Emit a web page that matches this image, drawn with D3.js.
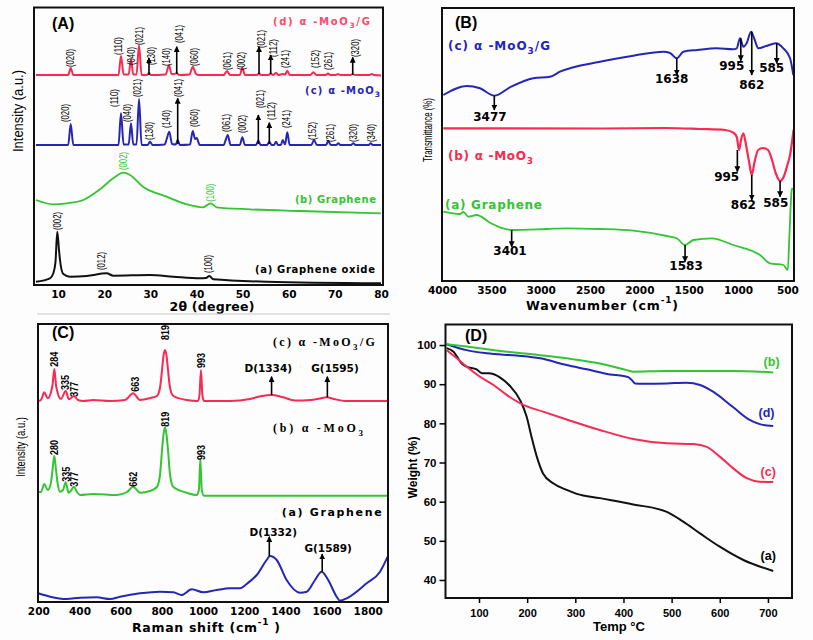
<!DOCTYPE html>
<html><head><meta charset="utf-8">
<script src="https://cdn.jsdelivr.net/npm/d3@7"></script>
<style>body{margin:0;background:#fff}</style>
</head><body><svg id="c" width="813" height="640"></svg>
<script>
// ---------- (A) XRD ----------
const xrdTicks = [10,20,30,40,50,60,70,80];
const xrdMoO3G = [[5.2,210],[12.2,210],[12.74,217],[13.3,210],[23.1,210],[23.64,229],[24.2,210.5],[25.3,210.5],[25.81,225.7],[26.3,210.5],[27.0,210.5],[27.55,239.7],[28.1,210],[29.3,210],[29.71,212],[30.1,210],[33.3,210.5],[34.05,219.7],[34.6,211],[35.2,211],[35.72,212],[36.2,210],[38.5,210.5],[39.19,218.3],[39.9,211],[40.5,210],[45.9,210],[46.62,214],[47.3,210],[49.4,210],[49.94,217.3],[50.5,210],[53.1,210],[53.56,211.5],[54.0,210],[55.6,210],[56.09,211.5],[56.6,210],[57.24,212],[57.8,210],[58.7,211],[59.2,210.5],[59.69,214.3],[60.2,210],[64.7,210],[65.33,212.7],[66,210],[68.0,210],[68.52,211.5],[69,210],[70.2,210],[70.68,211],[71.2,210],[73.4,210],[73.87,211],[74.4,210],[77.5,210],[77.99,211],[78.5,210],[80,209.5]];
const xrdMoO3 = [[5.2,140],[12.2,140],[12.74,161],[13.3,140],[23.1,140],[23.64,171.7],[24.2,140.5],[25.3,140.5],[25.81,161.7],[26.3,140.5],[27.0,140.5],[27.55,186],[28.1,140],[29.4,140],[29.93,143.3],[30.5,140],[33.1,140.5],[33.55,146],[34.11,153.3],[34.7,141],[35.5,140.5],[35.93,145],[36.4,140],[38.6,140.5],[39.19,154],[39.7,146],[40.05,147],[40.7,140],[45.9,140],[46.4,146],[46.77,150],[47.4,140],[49.4,140],[49.94,147.7],[50.5,140],[52.9,140],[53.41,144.3],[53.9,140],[55.3,140],[55.79,143.3],[56.3,140],[56.8,140],[57.24,143.3],[57.7,140],[58.3,140],[58.7,145],[59.2,140.5],[59.69,152.7],[60.2,140],[64.9,140],[65.48,145],[66.1,140],[68.1,140],[68.58,144.3],[69.1,140],[70.3,140],[70.75,141.7],[71.2,140],[73.5,140],[74.0,141.7],[74.5,140],[77.3,140],[77.77,141.7],[78.2,140],[80,140]];
const xrdGraphene = [[5.2,85],[8.97,80.7],[11.87,81.7],[15.47,85],[19.09,95.7],[21.97,106.7],[24.14,112.3],[25.59,110],[28.41,98.3],[33.55,88.3],[37.89,80.7],[41.42,77.7],[43.09,81.7],[44.39,77.7],[51.61,75.7],[62.45,74],[80,71.7]];
const xrdGO = [[5.2,3.3],[8.25,6.7],[8.97,11.7],[9.44,23],[9.83,53.3],[10.2,35],[10.42,25],[11.13,11],[12.59,8.3],[16.21,9],[20.54,11.7],[21.97,9.3],[29.93,10],[34.98,8.3],[40.77,6.7],[42.07,7],[42.79,9],[43.65,5.7],[55.23,3.3],[80,1.7]];
const xrdLabelsMoO3G = [["(020)",12.74,218],["(110)",23.0,230],["(040)",25.81,220],["(021)",27.76,240],["(130)",30.3,220],["(140)",33.55,219],["(041)",36.43,242],["(060)",39.47,219],["(061)",46.77,215],["(002)",49.81,215],["(021)",54.14,237],["(112)",56.66,228],["(241)",59.2,217],["(152)",65.7,217],["(261)",68.52,215],["(320)",74.37,228]];
const xrdArrowsMoO3G = [[29.71,210,227],[35.72,211,238.3],[53.56,211,238.3],[56.09,211,230],[73.87,210,227.7]];
const xrdLabelsMoO3 = [["(020)",11.66,163],["(110)",22.19,178],["(040)",25.1,163],["(021)",27.18,188],["(130)",29.78,145],["(140)",33.55,157],["(041)",36.06,188],["(060)",39.68,158],["(061)",46.56,153],["(002)",49.94,152],["(021)",53.78,177],["(112)",56.31,165],["(241)",59.41,157],["(152)",65.2,145],["(261)",69.1,143],["(320)",74.0,143],["(340)",77.99,143]];
const xrdArrowsMoO3 = [[35.93,141,186.7],[53.41,141,170],[55.79,141,162.3]];
const xrdLabelsGraphene = [["(002)",24.14,115],["(100)",43.09,83.3]];
const xrdLabelsGO = [["(002)",9.83,55],["(012)",19.46,15],["(100)",42.57,12]];
const xrdNames = [["(d) α -MoO3/G",77.6,264,97],["(c) α -MoO3",79.8,195,75],["(b) Graphene",78.9,85.7,81],["(a)  Graphene oxide",78.7,16,120]];

// ---------- (B) FTIR ----------
const ftirTicks = [4000,3500,3000,2500,2000,1500,1000,500];
const ftirMoO3G = [[3987,186],[3750,195],[3615,192.7],[3470,185.3],[3311,193.7],[3075,202.7],[2905,204.3],[2804,209.3],[2399,219.3],[2061,225.3],[1757,229.3],[1689,228],[1621,222.7],[1554,229.3],[1412,231],[1216,232.7],[1051,231.7],[1013,232.7],[980,242.7],[946,234.3],[912,238],[868,249.3],[838,243],[794,232.7],[716,235],[615,237.7],[541,232.7],[473,222.7],[440,206]];
const ftirMoO3 = [[3987,152.7],[2399,152.5],[1723,153],[1385,152],[1131,151],[1048,148.3],[1013,144],[990,131],[970,141],[946,147.7],[919,136],[888,119],[861,106],[833,119],[797,131],[744,133],[696,131],[656,121],[615,107],[574,100],[534,105],[503,115],[473,126],[453,139],[438,151]];
const ftirGraphene = [[3987,69.3],[3818,67],[3784,69],[3733,64.3],[3648,66],[3514,58.3],[3412,53.7],[3294,51],[2939,52],[2736,52.7],[2399,52],[2061,50.3],[1723,45],[1621,42.7],[1537,36],[1453,41],[1267,42.7],[1048,36],[777,26],[676,17.7],[541,16],[496,11],[480,44.3],[456,91],[447,93]];
// [label, arrow wavenumber, from, to, label wavenumber, label level]
const ftirMarks = [["3477",3470,185.3,171,3514,164.3],["1638",1621,222.7,206,1672,202],["995",972,242.7,220.3,1064,215],["862",861,249.3,206,861,196],["585",608,237.7,217.7,659,213.3],["995",1007,131,109.3,1115,104.3],["862",861,106,81,946,76],["585",574,100,84.3,618,77.7],["3401",3294,51,34.3,3311,30.3],["1583",1537,36,19.3,1527,15]];
const ftirNames = [["(c) α -MoO3/G",3939,235.3,102],["(b) α -MoO3",3939,125,85],["(a) Graphene",3970,76,97]];

// ---------- (C) Raman ----------
const ramanTicks = [200,400,600,800,1000,1200,1400,1600,1800];
const ramanMoO3G = [[200,201],[213,202],[229,209.7],[246,203.7],[262,210],[269,217],[278,233],[286,217],[293,210],[310,203],[333,211],[349,202.7],[373,206],[393,202],[419,201],[467,202],[548,201],[621,202],[661,208.7],[694,202],[745,204],[776,206],[791,214],[801,232],[808,246],[815,252],[823,246],[830,232],[840,214],[856,206],[921,202],[976,201],[983,207],[990,232],[997,207],[1005,201],[1131,201],[1228,203],[1286,206],[1334,207],[1384,205],[1447,201.5],[1521,202],[1568,203.5],[1601,204.7],[1636,203],[1692,201],[1897,201]];
const ramanMoO3 = [[200,110.3],[213,110],[229,118],[246,112],[262,120],[269,132],[278,146],[286,132],[293,120],[305,110.3],[320,112],[333,119.7],[347,109.3],[361,112],[373,115.3],[388,110],[403,107],[467,108],[581,107],[631,110],[661,115.3],[694,109.3],[743,111],[776,115],[791,127],[801,152],[808,167],[815,174.7],[823,167],[830,152],[840,127],[856,115],[921,109.3],[969,107],[980,112],[987,142.7],[994,112],[1005,106.3],[1897,106.3]];
const ramanGraphene = [[200,8.7],[257,5.3],[338,3],[403,4.3],[484,4.7],[548,3],[597,5.3],[694,8.7],[791,10.3],[856,9.7],[896,7],[945,12.7],[1001,9.7],[1066,12],[1131,13.7],[1180,13.7],[1212,18],[1261,27],[1309,42],[1325,46],[1358,42],[1406,22],[1471,9.3],[1504,10.3],[1544,22],[1576,30.3],[1608,22],[1649,5.3],[1665,1.3],[1698,3.7],[1795,18.7],[1860,30.3],[1897,45.3]];
const ramanPeakLabels = [["284",278,235.3],["335",333,212],["377",378,205.3],["663",670,210.3],["819",819,262],["993",994,234],["280",278,147],["335",338,120.3],["377",378,115.3],["662",661,115.3],["819",819,175.3],["993",994,142]];
const ramanBandMarks = [["D(1334)",1333,207,225.3,1317,234.3],["G(1595)",1604,204.7,225.3,1641,234.3],["D(1332)",1322,46,65.3,1341,70.3],["G(1589)",1579,30.3,48,1608,53.7]];
const ramanNames = [["(c) α -MoO3/G",1835,260.3,102,"serif"],["(b) α -MoO3",1777,173.7,90,"serif"],["(a)  Graphene",1868,90.3,100,"sans"]];

// ---------- (D) TGA ----------
const tgaXTicks = [100,200,300,400,500,600,700];
const tgaYTicks = [40,50,60,70,80,90,100];
const tgaGO = [[33,99.2],[47,98.3],[64,95.3],[74,94.5],[95,93.8],[106,92.8],[120,92.8],[144,91.7],[164,89.6],[185,86.0],[199,81.7],[209,76.6],[220,71.5],[233,67.2],[254,64.7],[282,63.0],[303,62.0],[351,60.9],[420,59.3],[490,57.4],[524,54.9],[559,51.9],[600,48.5],[649,45.1],[711,42.3]];
const tgaGraphene = [[33,100.2],[74,99.6],[144,98.5],[227,97.4],[282,96.6],[351,95.3],[407,93.6],[420,93.2],[490,93.4],[628,93.4],[711,93.0]];
const tgaMoO3 = [[33,98.7],[54,96.6],[74,94.5],[102,91.9],[130,89.8],[158,87.2],[192,84.7],[233,83.0],[282,81.0],[351,78.3],[420,76.0],[490,74.9],[545,74.7],[573,74.0],[600,71.5],[628,68.5],[656,66.0],[683,65.1],[711,65.0]];
const tgaMoO3G = [[33,100.2],[74,98.7],[116,97.9],[178,97.3],[227,96.6],[282,94.9],[324,93.8],[372,92.5],[400,92.1],[410,91.8],[417,91.1],[424,90.2],[441,90.1],[490,90.2],[531,90.4],[559,89.8],[586,88.1],[628,84.1],[662,80.9],[683,79.8],[711,79.3]];
const tgaNames = [["(b)",707.6,95.7],["(d)",697,82.6],["(c)",700.5,67.7],["(a)",700.5,46]];

// ---------- drawing ----------
const RED="#f62a52", BLUE="#2626b6", GREEN="#34c434", PINK="#fb4a6c", BLK="#111";
const SANS="'DejaVu Sans', Verdana, sans-serif", ARIAL="Arial, 'Liberation Sans', sans-serif";
const fmt = d3.format("d");
const svg = d3.select("#c");
svg.append("rect").attr("width",813).attr("height",640).attr("fill","#fdfdfd");
svg.append("defs").append("marker").attr("id","ah").attr("viewBox","0 0 10 10")
  .attr("refX",9).attr("refY",5).attr("markerWidth",6).attr("markerHeight",6)
  .attr("markerUnits","userSpaceOnUse").attr("orient","auto")
  .append("path").attr("d","M0,0L10,5L0,10z").attr("fill","#000");

function curve(data, xs, ys, color, w){
  svg.append("path").datum(data).attr("fill","none").attr("stroke",color)
    .attr("stroke-width",w||2).attr("stroke-linejoin","round")
    .attr("d", d3.line().x(d=>xs(d[0])).y(d=>ys(d[1])).curve(d3.curveMonotoneX));
}
function arrow(xs, ys, x, y1, y2){
  svg.append("line").attr("x1",xs(x)).attr("x2",xs(x)).attr("y1",ys(y1)).attr("y2",ys(y2))
    .attr("stroke","#000").attr("stroke-width",1.6).attr("marker-end","url(#ah)");
}
function vlabel(xs, ys, t, x, y, color, font, size, len){
  const el = svg.append("text").attr("transform",`translate(${xs(x)},${ys(y)}) rotate(-90)`)
    .attr("dominant-baseline","central").attr("font-family",font).attr("font-size",size)
    .attr("fill",color).text(t);
  if(len) el.attr("textLength",len).attr("lengthAdjust","spacingAndGlyphs");
  return el;
}
function rich(x, y, str, opts){
  const el = svg.append("text").attr("x",x).attr("y",y).attr("dominant-baseline","central")
    .attr("font-family",opts.font).attr("font-size",opts.size).attr("font-weight",opts.weight||"bold")
    .attr("fill",opts.color||"#000").attr("text-anchor",opts.anchor||"start");
  const parts = str.split(/(?<=MoO)3/);
  parts.forEach((p,i)=>{
    el.append("tspan").text(p);
    if(i<parts.length-1) el.append("tspan").attr("baseline-shift","sub").attr("font-size",opts.size*0.75).text("3");
  });
  if(opts.len) el.attr("textLength",opts.len).attr("lengthAdjust","spacing");
  return el;
}
function frame(x0,y0,x1,y1){
  svg.append("rect").attr("x",x0).attr("y",y0).attr("width",x1-x0).attr("height",y1-y0)
    .attr("fill","none").attr("stroke",BLK).attr("stroke-width",2);
}
function styleAxis(g, font, size){
  g.select(".domain").remove();
  g.selectAll("text").attr("font-family",font).attr("font-size",size).attr("font-weight","bold").attr("fill","#000");
}
function ytitle(x, y, t, font, size, len, weight){
  const el = svg.append("text").attr("transform",`translate(${x},${y}) rotate(-90)`)
    .attr("text-anchor","middle").attr("dominant-baseline","central")
    .attr("font-family",font).attr("font-size",size).attr("font-weight",weight||"normal").text(t);
  if(len) el.attr("textLength",len).attr("lengthAdjust","spacingAndGlyphs");
}
function xtitle(x, y, base, sup, tail, len){
  const el = svg.append("text").attr("x",x).attr("y",y).attr("text-anchor","middle").attr("dominant-baseline","central")
    .attr("font-family",SANS).attr("font-size",12.5).attr("font-weight","bold");
  el.append("tspan").text(base);
  if(sup){ el.append("tspan").attr("baseline-shift","super").attr("font-size",9).text(sup); el.append("tspan").text(tail); }
  if(len) el.attr("textLength",len).attr("lengthAdjust","spacing");
}

// ===== Panel A =====
const xA = d3.scaleLinear().domain([5,80]).range([35,381]);
const yA = d3.scaleLinear().domain([0,277]).range([285,8]);
curve(xrdGO, xA, yA, BLK, 2);
curve(xrdGraphene, xA, yA, GREEN, 1.8);
curve(xrdMoO3, xA, yA, BLUE, 2);
curve(xrdMoO3G, xA, yA, RED, 2);
xrdArrowsMoO3G.forEach(a=>arrow(xA,yA,a[0],a[1],a[2]));
xrdArrowsMoO3.forEach(a=>arrow(xA,yA,a[0],a[1],a[2]));
xrdLabelsMoO3G.forEach(l=>vlabel(xA,yA,l[0],l[1],l[2],"#000",ARIAL,10,18));
xrdLabelsMoO3.forEach(l=>vlabel(xA,yA,l[0],l[1],l[2],"#000",ARIAL,10,18));
xrdLabelsGraphene.forEach(l=>vlabel(xA,yA,l[0],l[1],l[2],GREEN,ARIAL,10,18));
xrdLabelsGO.forEach(l=>vlabel(xA,yA,l[0],l[1],l[2],"#000",ARIAL,10,18));
const xrdColors=[PINK,BLUE,GREEN,"#000"];
xrdNames.forEach((n,i)=>rich(xA(n[1]),yA(n[2]),n[0],{font:SANS,size:10,color:xrdColors[i],anchor:"end",len:n[3]}));
frame(34,7.5,383,285);
const gA = svg.append("g").attr("transform","translate(0,285)")
  .call(d3.axisBottom(xA).tickValues(xrdTicks).tickFormat(fmt).tickSize(0).tickPadding(5.5));
styleAxis(gA, SANS, 10.5);
xtitle(212, 306, "2θ  (degree)", null, null, 85);
ytitle(18, 111, "Intensity (a.u.)", ARIAL, 14, 82);
svg.append("text").attr("x",52).attr("y",23).attr("dominant-baseline","central")
  .attr("font-family",ARIAL).attr("font-size",16).attr("font-weight","bold").text("(A)");
svg.append("line").attr("x1",37).attr("x2",390).attr("y1",314).attr("y2",314).attr("stroke","#c8c8c8").attr("stroke-width",1);

// ===== Panel B =====
const xB = d3.scaleLinear().domain([4000,433]).range([442,794]);
const yB = d3.scaleLinear().domain([0,273]).range([281,8]);
curve(ftirGraphene, xB, yB, GREEN, 1.8);
curve(ftirMoO3, xB, yB, RED, 2.2);
curve(ftirMoO3G, xB, yB, BLUE, 2);
ftirMarks.forEach(m=>{
  arrow(xB,yB,m[1],m[2],m[3]);
  svg.append("text").attr("x",xB(m[4])).attr("y",yB(m[5])).attr("text-anchor","middle")
    .attr("dominant-baseline","central").attr("font-family",SANS).attr("font-size",12)
    .attr("font-weight","bold").text(m[0]);
});
const ftirColors=[BLUE,RED,GREEN];
ftirNames.forEach((n,i)=>rich(xB(n[1]),yB(n[2]),n[0],{font:SANS,size:12,color:ftirColors[i],len:n[3]}));
frame(442,8,794,281);
const gB = svg.append("g").attr("transform","translate(0,281)")
  .call(d3.axisBottom(xB).tickValues(ftirTicks).tickFormat(fmt).tickSize(0).tickPadding(6));
styleAxis(gB, SANS, 10.5);
xtitle(602, 305, "Wavenumber (cm", "-1", ")", 152);
ytitle(428, 130, "Transmittance (%)", ARIAL, 12.5, 64);
svg.append("text").attr("x",455).attr("y",22).attr("dominant-baseline","central")
  .attr("font-family",ARIAL).attr("font-size",16).attr("font-weight","bold").text("(B)");

// ===== Panel C =====
const xC = d3.scaleLinear().domain([200,1900]).range([38.3,388.3]);
const yC = d3.scaleLinear().domain([0,278]).range([602,324]);
curve(ramanGraphene, xC, yC, BLUE, 2);
curve(ramanMoO3, xC, yC, GREEN, 2);
curve(ramanMoO3G, xC, yC, RED, 2);
ramanPeakLabels.forEach(l=>vlabel(xC,yC,l[0],l[1],l[2],"#000",ARIAL,10,15).attr("font-weight","bold"));
ramanBandMarks.forEach(m=>{
  arrow(xC,yC,m[1],m[2],m[3]);
  svg.append("text").attr("x",xC(m[4])).attr("y",yC(m[5])).attr("text-anchor","middle")
    .attr("dominant-baseline","central").attr("font-family",SANS).attr("font-size",10.5)
    .attr("font-weight","bold").text(m[0]);
});
ramanNames.forEach(n=>rich(xC(n[1]),yC(n[2]),n[0],{font:n[4]==="serif"?"'Liberation Serif','Times New Roman',serif":SANS,size:n[4]==="serif"?12:11,anchor:"end",len:n[3]}));
frame(38,324,388,602);
const gC = svg.append("g").attr("transform","translate(0,602)")
  .call(d3.axisBottom(xC).tickValues(ramanTicks).tickFormat(fmt).tickSize(0).tickPadding(5.5));
styleAxis(gC, SANS, 10.5);
xtitle(206, 627, "Raman shift (cm", "-1", " )", 148);
ytitle(20.5, 447, "Intensity (a.u.)", ARIAL, 13, 60);
svg.append("text").attr("x",52).attr("y",332).attr("dominant-baseline","central")
  .attr("font-family",ARIAL).attr("font-size",16).attr("font-weight","bold").text("(C)");

// ===== Panel D =====
const xD = d3.scaleLinear().domain([30,750]).range([445.3,792]);
const yD = d3.scaleLinear().domain([35.5,105.5]).range([597.6,323.5]);
curve(tgaGO, xD, yD, BLK, 2);
curve(tgaMoO3, xD, yD, RED, 2);
curve(tgaMoO3G, xD, yD, BLUE, 2);
curve(tgaGraphene, xD, yD, GREEN, 2);
const tgaColors=[GREEN,BLUE,RED,"#000"];
tgaNames.forEach((n,i)=>svg.append("text").attr("x",xD(n[1])).attr("y",yD(n[2])).attr("text-anchor","middle")
  .attr("dominant-baseline","central").attr("font-family",ARIAL).attr("font-size",12.5)
  .attr("font-weight","bold").attr("fill",tgaColors[i]).text(n[0]));
frame(445.5,324.5,792,598);
const gDx = svg.append("g").attr("transform","translate(0,598)")
  .call(d3.axisBottom(xD).tickValues(tgaXTicks).tickFormat(fmt).tickSize(5).tickPadding(6));
styleAxis(gDx, ARIAL, 11);
gDx.selectAll("line").attr("stroke","#000").attr("stroke-width",1.5);
const gDy = svg.append("g").attr("transform","translate(445.5,0)")
  .call(d3.axisLeft(yD).tickValues(tgaYTicks).tickFormat(fmt).tickSize(6).tickPadding(3));
styleAxis(gDy, ARIAL, 11.5);
gDy.selectAll("line").attr("stroke","#000").attr("stroke-width",1.5);
svg.append("text").attr("x",619).attr("y",626).attr("text-anchor","middle").attr("dominant-baseline","central")
  .attr("font-family",ARIAL).attr("font-size",13).attr("font-weight","bold").text("Temp °C");
ytitle(413, 467.5, "Weight (%)", ARIAL, 12, null, "bold");
svg.append("text").attr("x",465).attr("y",335).attr("dominant-baseline","central")
  .attr("font-family",ARIAL).attr("font-size",16).attr("font-weight","bold").text("(D)");
</script></body></html>
